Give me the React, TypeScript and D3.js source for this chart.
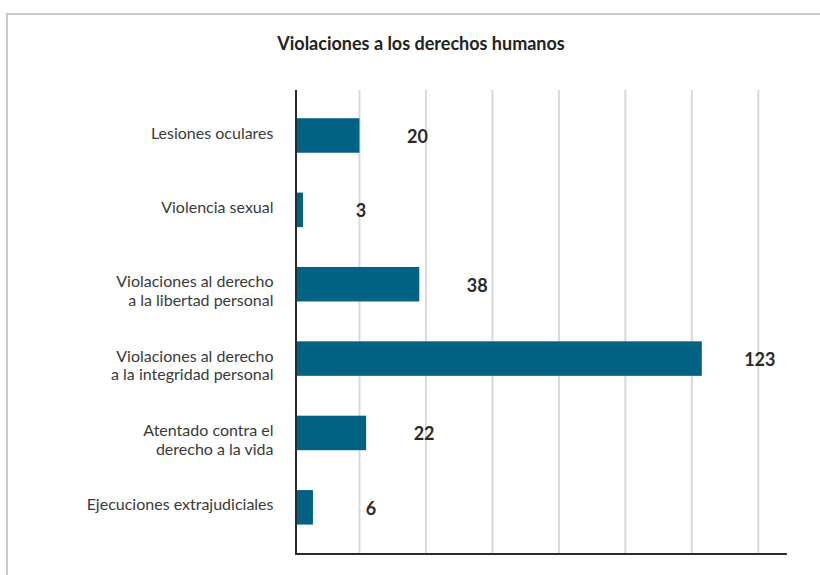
import React, { useEffect, useRef } from 'react';
import * as d3 from 'd3';

const categories = [
  ['Lesiones oculares'],
  ['Violencia sexual'],
  ['Violaciones al derecho', 'a la libertad personal'],
  ['Violaciones al derecho', 'a la integridad personal'],
  ['Atentado contra el', 'derecho a la vida'],
  ['Ejecuciones extrajudiciales'],
];
const values = [20, 3, 38, 123, 22, 6];
const gridTicks = [20, 40, 60, 80, 100, 120, 140];

const barColor = '#016283';
const fontFamily = 'Lato, "Open Sans", sans-serif';

function drawChart(container: SVGSVGElement) {
  const svg = d3.select(container);
  svg.selectAll('*').remove();

  const width = 820;
  const height = 575;

  // Frame around the chart
  svg.append('rect')
    .attr('x', 7)
    .attr('y', 14)
    .attr('width', 830)
    .attr('height', 600)
    .attr('fill', '#fff')
    .attr('stroke', '#c9c9cc')
    .attr('stroke-width', 2);

  // Title
  svg.append('text')
    .attr('x', 421)
    .attr('y', 50)
    .attr('text-anchor', 'middle')
    .attr('fill', '#222')
    .style('font-family', fontFamily)
    .style('font-size', '18px')
    .style('font-weight', 'bold')
    .text('Violaciones a los derechos humanos');

  const x = d3.scaleLinear().domain([0, 140]).range([293, 758.3]);
  const idx = categories.map((_, i) => i);
  const y = d3.scaleBand<number>()
    .domain(idx)
    .range([98.3, 544.5])
    .paddingInner(0.536)
    .paddingOuter(0.268);

  const plotTop = 90;
  const plotBottom = 554;
  const axisX = 296;

  // Vertical grid lines
  svg.append('g')
    .selectAll('line')
    .data(gridTicks)
    .enter().append('line')
    .attr('x1', d => x(d))
    .attr('x2', d => x(d))
    .attr('y1', plotTop)
    .attr('y2', plotBottom)
    .attr('stroke', '#d9d9d9')
    .attr('stroke-width', 2);

  // Bars (start at the axis line)
  svg.append('g')
    .selectAll('rect')
    .data(values)
    .enter().append('rect')
    .attr('x', axisX - 1)
    .attr('y', (_, i) => y(i) as number)
    .attr('width', d => Math.max(0, x(d) - (axisX - 1)))
    .attr('height', y.bandwidth())
    .attr('fill', barColor);

  // Value labels
  svg.append('g')
    .selectAll('text')
    .data(values)
    .enter().append('text')
    .attr('x', d => x(d) + 58)
    .attr('y', (_, i) => (y(i) as number) + y.bandwidth() / 2 + 1)
    .attr('dy', '0.35em')
    .attr('text-anchor', 'middle')
    .attr('fill', '#2a2a2a')
    .style('font-family', fontFamily)
    .style('font-size', '18px')
    .style('font-weight', 'bold')
    .text(d => d);

  // Category labels
  const labels = svg.append('g')
    .selectAll('text')
    .data(categories)
    .enter().append('text')
    .attr('text-anchor', 'end')
    .attr('fill', '#3a3a3a')
    .style('font-family', fontFamily)
    .style('font-size', '16px');

  labels.each(function (lines, i) {
    const cy = (y(i) as number) + y.bandwidth() / 2 - 2.5;
    d3.select(this).selectAll('tspan')
      .data(lines)
      .enter().append('tspan')
      .attr('x', 273.5)
      .attr('y', (_, j) => cy + j * 18.5)
      .attr('dy', '0.35em')
      .text(d => d);
  });

  // Axis lines
  svg.append('line')
    .attr('x1', axisX)
    .attr('x2', axisX)
    .attr('y1', plotTop)
    .attr('y2', plotBottom + 1)
    .attr('stroke', '#2b2b2b')
    .attr('stroke-width', 2);

  svg.append('line')
    .attr('x1', axisX - 1)
    .attr('x2', x(148.6))
    .attr('y1', plotBottom)
    .attr('y2', plotBottom)
    .attr('stroke', '#2b2b2b')
    .attr('stroke-width', 2);

  svg.attr('width', width).attr('height', height);
}

const App = () => {
  const ref = useRef<SVGSVGElement>(null);

  useEffect(() => {
    if (ref.current) drawChart(ref.current);
  }, []);

  return (
    <svg
      ref={ref}
      width={820}
      height={575}
      style={{ position: 'absolute', left: 0, top: 0, background: '#fff' }}
    />
  );
};

export default App;
